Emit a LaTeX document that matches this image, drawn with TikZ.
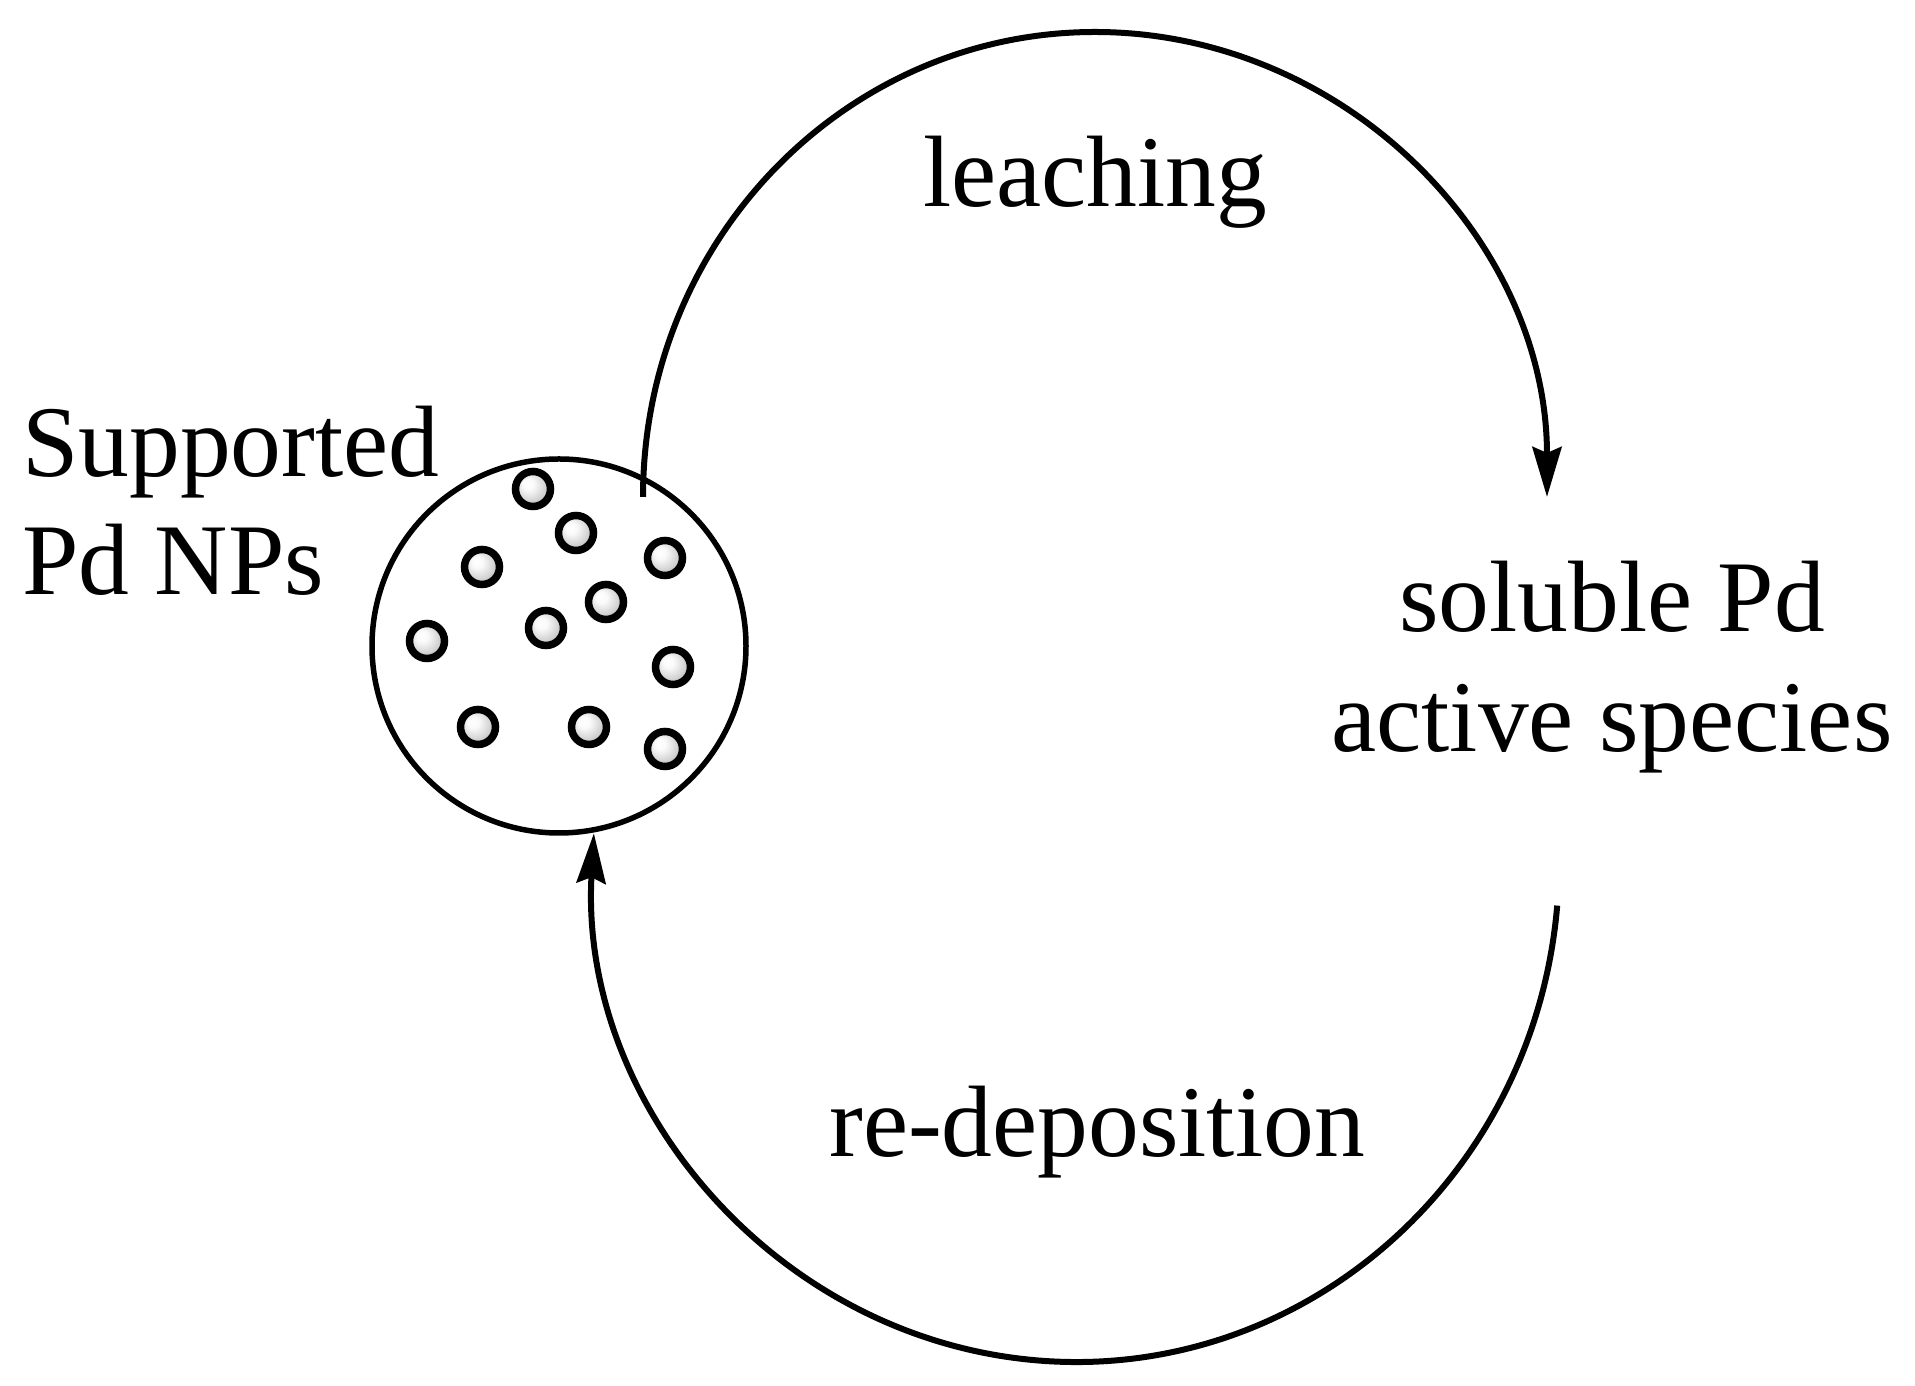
\documentclass[tikz,border=0pt]{standalone}
\usepackage{fontspec}
\setmainfont{Liberation Serif}
\usetikzlibrary{arrows.meta}
\pgfdeclareradialshading{pdball}{\pgfpoint{-8bp}{8bp}}{color(0bp)=(white); color(8bp)=(white!98!black); color(22bp)=(white!82!black); color(38bp)=(white!55!black); color(50bp)=(white!50!black)}
\begin{document}
\begin{tikzpicture}[x=1pt,y=1pt,
  lbl/.style={inner sep=0pt, font=\fontsize{101.5}{118}\selectfont},
  ptcl/.style={circle, draw, line width=7.5pt, minimum size=35pt, inner sep=0pt, shade, shading=pdball},
  flow/.style={line width=6pt, -{Stealth[length=50pt,width=29pt,inset=6pt]}}
]
\useasboundingbox (0,0) rectangle (1915,1386);

% support with nanoparticles
\node[circle, draw, line width=5.5pt, minimum size=374pt, inner sep=0pt] (np) at (559,740) {};
\foreach \n/\x/\y in {1/533/897, 2/576/853, 3/482/819, 4/665/828, 5/606/784, 6/546/758,
                      7/427/745, 8/673/719, 9/478/659, 10/589/659, 11/665/637}
  \node[ptcl] (p\n) at (\x,\y) {};

% labels
\node[lbl, anchor=base west] (suplbl) at (22,909)
  {\begin{tabular}[t]{@{}l@{}}Supported\\Pd NPs\end{tabular}};
\node[lbl, anchor=base, font=\fontsize{101.5}{120}\selectfont] (sollbl) at (1612,754)
  {\begin{tabular}[t]{@{}c@{}}soluble Pd\\active species\end{tabular}};
\node[lbl, anchor=base] (leach) at (1095,1179) {leaching};
\node[lbl, anchor=base] (redep) at (1097,229) {re-deposition};

% connectors
\coordinate (lstart) at (643,889);
\coordinate (rstart) at (1557.2,480.4);
\draw[flow] (lstart) arc[start angle=180, end angle=0, x radius=452pt, y radius=465pt] coordinate (ltip);
\draw[flow] (rstart) arc[start angle=-5, end angle=-183.3, x radius=483pt, y radius=500pt] coordinate (rtip);
\end{tikzpicture}
\end{document}
